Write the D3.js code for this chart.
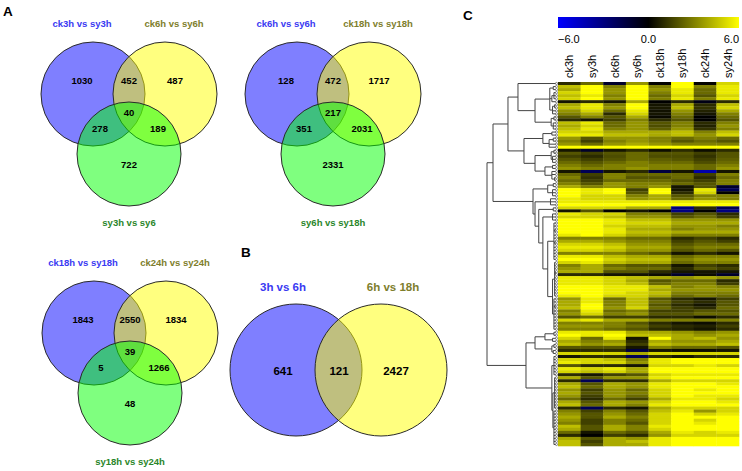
<!DOCTYPE html>
<html>
<head>
<meta charset="utf-8">
<script src="https://cdn.jsdelivr.net/npm/d3@7"></script>
<style>
  body { margin: 0; background: #fff; }
  svg { display: block; font-family: "Liberation Sans", Arial, sans-serif; }
</style>
</head>
<body>
<svg id="chart" width="742" height="471"></svg>
<script>
'use strict';

// ---- Venn data (region order: A only, AB, B only, ABC, AC, BC, C only)
var venn1Labels = ["ck3h vs sy3h", "ck6h vs sy6h", "sy3h vs sy6"];
var venn1Counts = [1030, 452, 487, 40, 278, 189, 722];
var venn2Labels = ["ck6h vs sy6h", "ck18h vs sy18h", "sy6h vs sy18h"];
var venn2Counts = [128, 472, 1717, 217, 351, 2031, 2331];
var venn3Labels = ["ck18h vs sy18h", "ck24h vs sy24h", "sy18h vs sy24h"];
var venn3Counts = [1843, 2550, 1834, 39, 5, 1266, 48];
// two-set venn: A only, AB, B only
var venn4Labels = ["3h vs 6h", "6h vs 18h"];
var venn4Counts = [641, 121, 2427];

// ---- heatmap data
var columns = ["ck3h", "sy3h", "ck6h", "sy6h", "ck18h", "sy18h", "ck24h", "sy24h"];
var colorTicks = [-6.0, 0.0, 6.0];
var heatRows = [
  [1.0, 2.5, -1.0, 3.5, 0.1, 6, 0.1, 5],
  [4.5, 6, 3, 6, 3, 6, 3, 5.5],
  [4.0, 6, 3.5, 6, 3.5, 5.5, 2.5, 5.5],
  [5, 6, 3.5, 6, 3, 5.5, 2.5, 5.5],
  [4.5, 5.5, 3, 6, 2.5, 5, 2, 5],
  [5, 6, 3.5, 6, 3, 5.5, 3, 5.5],
  [0.5, 1, 0.5, 4, 0, 1, -0.5, 1],
  [4, 5.5, 3, 6, 0.5, 4, 1, 4.5],
  [4.5, 5.5, 3.5, 6, 0.6, 4.5, 1.2, 5],
  [3.5, 5, 2.5, 5.5, 0.4, 3.5, 0.8, 4],
  [3, 4, 1, 5, 0.5, 3, 0.5, 3],
  [2, 3, 2, 4, 0.2, 2.5, 0, 2.5],
  [1, 0.5, 1.5, 3, 1, 2, 0, 2],
  [4.5, 5.5, 2.5, 3.5, 2, 3, 1, 3],
  [4, 5, 2.5, 3.5, 1.8, 3, 0.8, 3.5],
  [4.5, 5.5, 3, 3.5, 2.2, 3.5, 1.2, 3],
  [5, 5, 4, 4, 4, 4.5, 3, 4.5],
  [5.5, 5.5, 4.5, 4.5, 4, 4.5, 3.5, 5],
  [3.5, 2, 3.5, 3.5, 3, 2.5, 3, 2.5],
  [3, 1.5, 3, 3.5, 3, 2, 2.5, 2],
  [3.5, 2.5, 3.5, 4, 3.5, 3, 3, 3],
  [6, 6, 6, 6, 6, 6, 6, 6],
  [0.5, -1, 0.5, 1, 0.3, 1, 0.3, 1],
  [2, 1.5, 2, 2.5, 2, 2, 1.5, 2],
  [1.5, 1, 1.8, 2.5, 1.8, 1.8, 1.2, 2],
  [2, 1.5, 2, 2.5, 2.2, 2, 1.5, 2.2],
  [2.5, 2, 2.5, 3, 2.5, 2.5, 1.8, 2.5],
  [3, 2.5, 3, 3, 3, 3, 2.5, 3],
  [3.5, 3, 3, 3.5, 3, 3, 2.5, 3.5],
  [0.5, -2, 0.5, 1, -1.5, 0.5, -4, 0.5],
  [2.5, 1.5, 3, 2.5, 2.5, 2.5, 1.5, 3],
  [3, 1.2, 3, 2, 2, 2.5, 1, 2.5],
  [2.5, 1.5, 2.5, 2.5, 2.5, 2, 1.5, 3],
  [3, 2, 3.5, 3, 3, 2.5, 2, 3],
  [4, 3, 3.5, 3, 3.5, 0.5, 2, -1],
  [6, 5.5, 6, 1.5, 6, 0.5, 5.5, -2],
  [6, 5.5, 6, 2, 6, 1, 5, 0],
  [6, 5, 5, 3, 4, 2, 3, 3],
  [5.5, 5, 5, 3.5, 4, 2.5, 3.5, 3],
  [5.5, 5.5, 5.5, 5.5, 5.5, 5.5, 5.5, 5.5],
  [6, 6, 6, 6, 6, 6, 6, 6],
  [5, 5, 5, 4, 4, -3, 1, -2],
  [0.5, 2, 0, 0.5, 0, -3, 0, -3],
  [5.5, 5, 5, 3, 3, 1.5, 2, 1],
  [5, 5, 4.5, 3.5, 3.5, 2, 2.5, 1.5],
  [6, 6, 5.5, 4.5, 4.5, 3.5, 3.5, 3.5],
  [6, 6, 5.5, 5, 5, 4, 4, 4],
  [6, 6, 5, 4.5, 4.5, 3.5, 3.5, 3],
  [6, 6, 5.5, 4, 4, 3, 3.5, 3.5],
  [6, 6, 5.5, 4.5, 4.5, 4, 4, 4],
  [5.5, 6, 5, 4, 4, 3, 3, 3],
  [3, 3, 3, 2.5, 2.5, 1, 1.5, 1],
  [4, 4, 3.5, 3, 3, 1.5, 2, 1.5],
  [5, 5, 4.5, 3.5, 3.5, 2, 2.5, 2.5],
  [5.5, 5.5, 5, 4, 4, 2.5, 3, 3],
  [5, 5, 4.5, 3.5, 3.5, 2, 2.5, 2],
  [3, 3, 3, 2.5, 2, 0.5, 1, 0.5],
  [5.5, 5.5, 4.5, 4, 4, 2.5, 3, 3],
  [6, 6, 5, 4.5, 4.5, 3, 3.5, 3.5],
  [5, 5.5, 4.5, 4, 4, 2.5, 3, 3],
  [3, 4, 2.5, 2, 2, 0.5, 1.5, 1],
  [3.5, 4, 3, 2.5, 2.5, 1, 2, 1.5],
  [4, 4, 2, 2, 1, 0.5, 0.5, 0.5],
  [1, 1, 0.5, 0.5, 0.3, -1, 0.3, -1],
  [5.5, 5.5, 5, 4.5, 4, 3.5, 4, 3.5],
  [5.5, 5.5, 5, 4, 2, 2.5, 2.5, 1],
  [5.5, 5.5, 5, 4.5, 2.5, 3, 3, 1.5],
  [6, 6, 5.5, 5.5, 4.5, 3, 3.5, 3],
  [6, 6, 5.5, 5.5, 4, 3.5, 3.5, 3.5],
  [6, 6, 5.5, 5, 4.5, 3, 3, 3],
  [5.5, 6, 5, 5, 4, 2.5, 3, 2.5],
  [3.5, 5.5, 2.5, 4.5, 2, 1, 0.5, 1.5],
  [4, 5.5, 3, 4.5, 2.5, 1.5, 1, 2],
  [4, 6, 3, 4.5, 2, 1, 0.5, 2],
  [4.5, 6, 3.5, 5, 2.5, 1.5, 1, 2.5],
  [3, 5.5, 2.5, 3, 1.5, 1.5, 2, 2],
  [3.5, 5, 3, 3.5, 2, 2, 2.5, 2.5],
  [2, 2.5, 1.5, 1.5, 1, 1, 0.3, 1],
  [5, 5.5, 4, 4, 3, 3, 3, 3],
  [3, 3, 3, 2, 1, 0.5, 0.3, 1],
  [3.5, 3.5, 3, 2.5, 1.5, 1, 0.8, 1.5],
  [3, 3, 2.5, 2, 1, 0.8, 0.5, 1],
  [5.5, 5.5, 5.5, 4, 4, 3.5, 3, 3.5],
  [6, 5.5, 6, 4.5, 4.5, 4, 3.5, 4],
  [5, 2.5, 5.5, 0.5, 6, 4, 4.5, 3.5],
  [4, 3, 3.5, 1, 4, 3.5, 3.5, 4],
  [4.5, 3.5, 4, 1.5, 4.5, 4, 4, 4.5],
  [2, 2, 2, 0.5, 3, 2.5, 2.5, 2],
  [1, 1, 1, -1.5, 0.5, 0.3, 0.3, 0.5],
  [5, 5, 5, 4, 5, 5, 5, 5],
  [0.5, 1, 1, -2, 1, 0.5, 1, 1],
  [5, 5, 4.5, 3, 5.5, 6, 6, 6],
  [5.5, 5, 5, 3.5, 5.5, 6, 6, 6],
  [2, 1, 1, 0.5, 5, 5, 5.5, 5],
  [5.5, 5, 5.5, 4, 6, 6, 6, 6],
  [5, 4.5, 5, 4, 6, 6, 6, 6],
  [1, 0.5, 1.5, 2, 5, 5.5, 5.5, 5.5],
  [4, 2, 3.5, 3.5, 5.5, 6, 6, 6],
  [1, -2, 1, 1, 4, 5, 5, 5],
  [4, 2, 4, 3.5, 5.5, 6, 6, 5.5],
  [4.5, 2.5, 4, 3.5, 5.5, 6, 6, 6],
  [3.5, 1.5, 3.5, 2.5, 5, 6, 5.5, 6],
  [4, 2, 3.5, 3, 5, 6, 6, 6],
  [3.5, 1.5, 3.5, 2.5, 5, 6, 5.5, 5.5],
  [2.5, 1, 2.5, 1.5, 4, 5.5, 5.5, 5],
  [4, 2, 4, 3.5, 5, 6, 6, 5.5],
  [4.5, 2.5, 4, 3, 5.5, 6, 6, 6],
  [1, -2, 1, 0.5, 4, 5, 5, 5],
  [3, 1.5, 3, 2, 4.5, 5.5, 3.5, 5],
  [3.5, 2, 3.5, 2.5, 5, 6, 5, 5.5],
  [4, 2, 4, 3, 5, 6, 6, 6],
  [3.5, 1.5, 3, 2.5, 5, 6, 5, 6],
  [3, 1.5, 3, 2, 5, 6, 5.5, 6],
  [4.5, 2, 4, 3, 5.5, 6, 6, 6],
  [4, 2, 4, 3, 5, 6, 6, 6],
  [2.5, 0.5, 2.5, 2, 4, 5.5, 5, 5.5],
  [1, 0, 1.5, 1, 3.5, 5, 5, 5],
  [4, 2, 4, 3.5, 5.5, 6, 6, 6],
  [4.5, 1.5, 4, 4.5, 5.5, 6, 6, 6],
  [4.5, 2, 4, 4, 5.5, 6, 6, 6]
];

// row dendrogram: [height, child, child, ...], a number is a leaf (row index)
var dendro = [1.0,
  [0.913,
    [0.696,
      [0.551, 0,
        [0.304,
          [0.09, [0.04, 1, 2], [0.06, [0.03, 3, 4, 5], 6], [0.05, [0.02, 7, 8], 9, 10]],
          [0.07, [0.03, 11, 12], [0.04, 13, 14, 15]]]],
      [0.464,
        [0.19, [0.06, 16, 17], [0.1, [0.04, 18, 19], 20, 21]],
        [0.304,
          [0.07, [0.03, 22, 23], [0.05, 24, 25, 26]],
          [0.16, [0.05, 27, 28], [0.06, 29, 30, [0.02, 31, 32]]]]]],
    [0.333,
      [0.12, [0.04, 33, 34], [0.05, 35, 36, 37]],
      [0.304, [0.08, 38, 39, 40],
        [0.25, [0.04, 41, 42],
          [0.19, [0.05, 43, 44, 45],
            [0.12,
              [0.03, 46, 47, [0.015, 48, 49], 50, 51, [0.015, 52, 53], 54, 55, 56, 57, 58],
              [0.05,
                [0.02, 59, 60, 61, [0.01, 62, 63], 64, 65, 66, 67, 68, 69, 70],
                [0.03, 71, 72, [0.015, 73, 74], 75, 76, 77, 78, 79, 80, 81]]]]]]]],
  [0.435,
    [0.304,
      [0.16, [0.03, 82, 83], [0.05, 84, 85]],
      [0.06, [0.03, 86, 87], [0.04, 88, 89]]],
    [0.06,
      [0.03, 90, 91, 92, 93, 94, 95, 96],
      [0.045,
        [0.02, 97, 98, 99, 100, 101, 102, 103, 104, 105, 106, 107],
        [0.03, 108, 109, 110, 111, 112, 113, 114, 115, 116, 117, 118, 119]]]]
];

var svg = d3.select("#chart");
var BLUE_TXT = "#3a3af2", OLIVE_TXT = "#7e7e2c", GREEN_TXT = "#2a862a";

function panelLetter(t, x, y) {
  svg.append("text").attr("x", x).attr("y", y).text(t)
    .style("font-size", "13.5px").style("font-weight", "bold").style("fill", "#000");
}

function numberText(g, x, y, v, size) {
  g.append("text").attr("x", x).attr("y", y).attr("dy", "0.36em")
    .attr("text-anchor", "middle").text(v)
    .style("font-size", size + "px").style("font-weight", "bold").style("fill", "#000");
}

/* three set venn, gx = x of bottom circle, ty = y of the two top circles */
function venn3(gx, ty, labels, counts) {
  var r = 52, g = svg.append("g");
  var circles = [
    {x: gx - 36, y: ty, c: "#0000ff"},
    {x: gx + 36, y: ty, c: "#ffff00"},
    {x: gx, y: ty + 60, c: "#00ff00"}
  ];
  g.selectAll("circle").data(circles).enter().append("circle")
    .attr("cx", function(d) { return d.x; })
    .attr("cy", function(d) { return d.y; })
    .attr("r", r)
    .style("fill", function(d) { return d.c; })
    .style("fill-opacity", 0.5)
    .style("stroke", "#2a2a2a").style("stroke-width", 1);
  var spots = [[-47, -13], [0, -13], [46, -13], [0, 19], [-29, 35], [29, 35], [0, 71]];
  counts.forEach(function(v, i) {
    numberText(g, gx + spots[i][0], ty + spots[i][1], v, 9.5);
  });
  var lab = [[-47, -70, BLUE_TXT], [45, -70, OLIVE_TXT], [0, 129, GREEN_TXT]];
  labels.forEach(function(t, i) {
    g.append("text").attr("x", gx + lab[i][0]).attr("y", ty + lab[i][1]).attr("dy", "0.36em")
      .attr("text-anchor", "middle").text(t)
      .style("font-size", "9.5px").style("font-weight", "bold").style("fill", lab[i][2]);
  });
}

venn3(129, 94, venn1Labels, venn1Counts);
venn3(333, 94, venn2Labels, venn2Counts);
venn3(130, 333, venn3Labels, venn3Counts);

/* two set venn */
(function() {
  var g = svg.append("g"), r = 66, cy = 370;
  var circles = [{x: 296, c: "#0000ff"}, {x: 381, c: "#ffff00"}];
  g.selectAll("circle").data(circles).enter().append("circle")
    .attr("cx", function(d) { return d.x; }).attr("cy", cy).attr("r", r)
    .style("fill", function(d) { return d.c; }).style("fill-opacity", 0.5)
    .style("stroke", "#2a2a2a").style("stroke-width", 1);
  var xs = [283, 339, 396];
  venn4Counts.forEach(function(v, i) { numberText(g, xs[i], cy + 1, v, 11.5); });
  [[283, BLUE_TXT], [393, OLIVE_TXT]].forEach(function(p, i) {
    g.append("text").attr("x", p[0]).attr("y", 287).attr("dy", "0.36em")
      .attr("text-anchor", "middle").text(venn4Labels[i])
      .style("font-size", "11.5px").style("font-weight", "bold").style("fill", p[1]);
  });
})();

panelLetter("A", 3, 16);
panelLetter("B", 241, 257);
panelLetter("C", 463, 20);

/* ---- heatmap */
var hx = d3.scaleBand().domain(columns).range([558, 739]);
var hy = d3.scaleBand().domain(d3.range(heatRows.length)).range([82, 446]);
var color = d3.scaleLinear().domain([-6, 0, 6]).range(["#0000ff", "#000000", "#ffff00"]).clamp(true);

var heat = svg.append("g");
heatRows.forEach(function(row, ri) {
  heat.selectAll(".r" + ri).data(row).enter().append("rect")
    .attr("x", function(d, ci) { return hx(columns[ci]); })
    .attr("y", hy(ri))
    .attr("width", hx.bandwidth() + 0.3)
    .attr("height", hy.bandwidth() + 0.3)
    .style("fill", function(d) { return color(d); });
});

// colour key
var defs = svg.append("defs");
var grad = defs.append("linearGradient").attr("id", "key").attr("x1", "0%").attr("x2", "100%");
var keyScale = d3.scaleLinear().domain([-6, 6]).range([0, 100]);
[-6, -3, 0, 3, 6].forEach(function(v) {
  grad.append("stop").attr("offset", keyScale(v) + "%").attr("stop-color", color(v));
});
svg.append("rect").attr("x", 558).attr("y", 17).attr("width", 181).attr("height", 11)
  .style("fill", "url(#key)");
var keyX = d3.scaleLinear().domain([-6, 6]).range([558, 739]);
colorTicks.forEach(function(v, i) {
  svg.append("text").attr("x", keyX(v)).attr("y", 42.5)
    .attr("text-anchor", i === 0 ? "start" : (i === colorTicks.length - 1 ? "end" : "middle"))
    .text(d3.format(".1f")(v))
    .style("font-size", "11px").style("fill", "#000");
});

// column labels
svg.selectAll(".colLab").data(columns).enter().append("text")
  .attr("class", "colLab")
  .attr("transform", function(d) { return "translate(" + (hx(d) + hx.bandwidth() / 2) + ",78) rotate(-90)"; })
  .attr("dy", "0.36em")
  .text(function(d) { return d; })
  .style("font-size", "11px").style("fill", "#000");

/* ---- dendrogram */
var dx = d3.scaleLinear().domain([0, 1]).range([556, 487]);
var dg = svg.append("g").style("stroke", "#444").style("stroke-width", 1).style("fill", "none");

function leafY(i) { return hy(i) + hy.bandwidth() / 2; }

function drawNode(node) {
  if (typeof node === "number") return {y: leafY(node), h: 0};
  var h = node[0];
  var kids = node.slice(1).map(drawNode);
  var y0 = kids[0].y, y1 = kids[kids.length - 1].y;
  kids.forEach(function(k) {
    dg.append("line").attr("x1", dx(h)).attr("x2", dx(k.h)).attr("y1", k.y).attr("y2", k.y);
  });
  dg.append("line").attr("x1", dx(h)).attr("x2", dx(h)).attr("y1", y0).attr("y2", y1);
  return {y: (y0 + y1) / 2, h: h};
}
drawNode(dendro);

dg.selectAll("circle").data(d3.range(heatRows.length)).enter().append("circle")
  .attr("cx", 556.5).attr("cy", function(d) { return leafY(d); }).attr("r", 1.1)
  .style("fill", "#fff").style("stroke-width", 0.6);
</script>
</body>
</html>
